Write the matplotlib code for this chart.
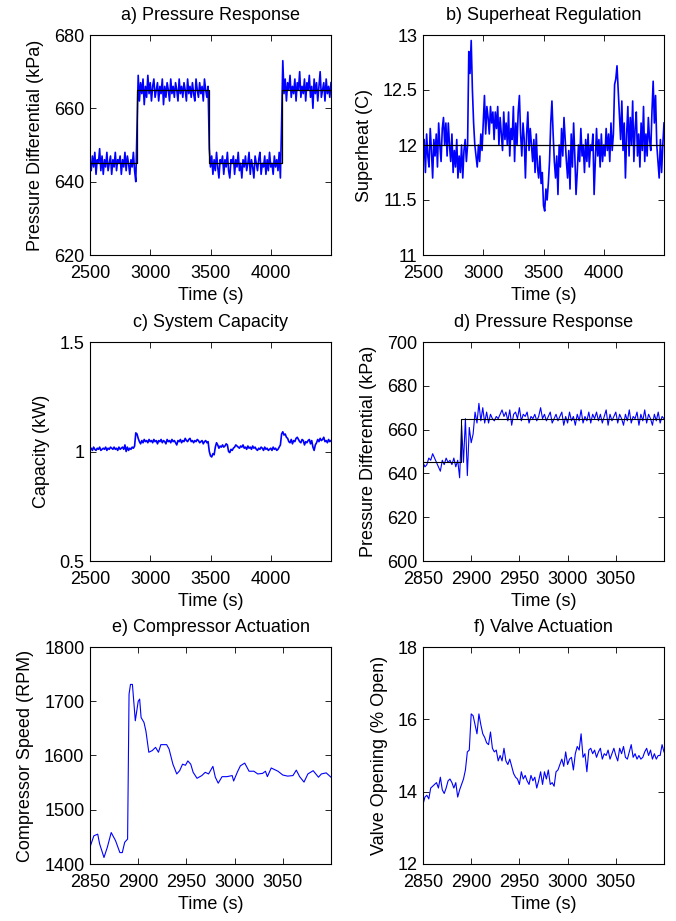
import numpy as np
import matplotlib.pyplot as plt
from matplotlib.ticker import FuncFormatter

plt.rcParams['font.family'] = ['Liberation Sans', 'DejaVu Sans']
plt.rcParams['font.size'] = 13

# ==========================================================
# DATA
# ==========================================================

# a) pressure response, long run, 10 s samples
t_long = np.arange(2500, 4501, 10)
press_long = [
    646, 643, 647, 644, 648, 642, 646, 645, 649, 643,
    647, 642, 646, 644, 648, 643, 645, 647, 642, 646,
    644, 648, 643, 646, 645, 647, 642, 646, 644, 648,
    643, 647, 645, 642, 646, 644, 648, 643, 640,
    655, 669, 662, 667, 664, 668, 661, 666, 663, 669,
    664, 667, 662, 666, 668, 663, 665, 667, 662, 666,
    664, 668, 661, 666, 663, 667, 665, 662, 668, 664,
    666, 663, 667, 665, 662, 668, 664, 666, 663, 667,
    665, 662, 668, 664, 666, 663, 667, 664, 662, 668,
    665, 663, 667, 664, 666, 662, 668, 665, 663, 666,
    649, 644, 647, 642, 646, 643, 648, 644, 641, 646,
    645, 647, 642, 646, 644, 648, 643, 641, 646, 645,
    647, 642, 646, 644, 648, 643, 645, 641, 646, 644,
    647, 643, 645, 648, 642, 646, 644, 641, 647, 645,
    643, 646, 648, 642, 645, 644, 647, 642, 646, 643,
    648, 644, 645, 642, 647, 644, 646, 643, 648, 641,
    656, 673, 664, 668, 662, 667, 665, 669, 663, 666,
    664, 668, 662, 667, 665, 670, 663, 666, 664, 668,
    662, 667, 665, 669, 663, 666, 660, 668, 664, 667,
    662, 666, 670, 663, 665, 667, 662, 668, 664, 666,
    663, 667,
]
sp_press_t = [2500, 2890, 3490, 4090, 4500]
sp_press_v = [645, 665, 645, 665, 665]

# b) superheat
superheat = [
    11.85, 12.05, 11.75, 12.1, 11.9, 11.8, 12.15, 11.95, 11.7, 12.05,
    11.9, 12.1, 11.8, 12.2, 12.0, 11.85, 12.15, 12.25, 12.0, 12.2,
    11.9, 12.2, 12.0, 11.85, 12.1, 11.75, 11.95, 11.8, 12.05, 11.7,
    11.9, 11.75, 12.0, 11.7, 11.95, 12.05, 11.85, 12.0, 12.85, 12.65,
    12.95, 12.5, 12.2, 12.0, 11.9, 11.8, 12.0, 11.85, 12.1, 11.95,
    12.2, 12.45, 12.1, 12.35, 12.25, 12.1, 12.35, 12.2, 12.3, 12.05,
    12.3, 12.15, 12.35, 12.0, 12.25, 12.1, 11.95, 12.3, 12.05, 12.2,
    12.0, 12.3, 11.9, 12.15, 12.05, 12.35, 11.85, 12.2, 12.0, 12.3,
    12.45, 12.1, 11.9, 12.2, 12.05, 11.7, 12.1, 12.3, 11.95, 12.15,
    12.0, 11.85, 12.05, 11.75, 12.1, 11.8, 11.7, 11.9, 11.65, 11.75,
    11.45, 11.4, 11.6, 11.5, 11.65, 11.85, 12.2, 12.4, 12.1, 11.85,
    11.7, 11.9, 11.55, 12.0, 11.8, 12.15, 11.9, 12.25, 12.05, 11.85,
    11.7, 11.95, 11.6, 12.1, 11.8, 12.2, 11.9, 11.55, 11.75, 12.0,
    11.85, 12.15, 11.9, 12.0, 11.75, 12.05, 11.85, 12.1, 11.8, 12.0,
    11.95, 12.1, 11.55, 11.85, 12.15, 11.9, 12.05, 11.8, 12.1, 11.85,
    12.0, 11.9, 12.15, 11.95, 12.1, 11.85, 12.2, 11.95, 12.1, 12.55,
    12.6, 12.72, 12.5, 12.3, 12.05, 12.4, 11.95, 12.2, 11.7, 12.1,
    12.35, 11.9, 12.25, 12.0, 12.4, 11.85, 12.15, 12.3, 11.9, 12.1,
    11.8, 12.2, 11.95, 12.35, 11.85, 12.1, 11.9, 12.25, 12.05, 11.95,
    12.3, 12.58, 12.2, 12.45, 12.0, 11.85, 11.7, 12.05, 11.75, 12.0,
    12.2,
]
sp_superheat = 12.0

# c) capacity
capacity = [
    1.01, 1.015, 1.005, 1.02, 1.01, 1.005, 1.015, 1.01, 1.02, 1.005,
    1.01, 1.015, 1.01, 1.02, 1.005, 1.015, 1.01, 1.02, 1.015, 1.01,
    1.02, 1.01, 1.015, 1.005, 1.02, 1.01, 1.015, 1.02, 1.01, 1.03,
    1.0, 1.02, 1.005, 1.015, 1.01, 1.02, 1.015, 1.025, 1.085, 1.08,
    1.06, 1.045, 1.035, 1.05, 1.04, 1.055, 1.045, 1.05, 1.04, 1.055,
    1.045, 1.05, 1.04, 1.055, 1.045, 1.05, 1.035, 1.05, 1.045, 1.055,
    1.04, 1.05, 1.045, 1.035, 1.055, 1.045, 1.05, 1.04, 1.055, 1.045,
    1.05, 1.04, 1.03, 1.05, 1.045, 1.055, 1.04, 1.05, 1.045, 1.06,
    1.05, 1.045, 1.055, 1.06, 1.045, 1.05, 1.04, 1.05, 1.045, 1.055,
    1.05, 1.04, 1.045, 1.05, 1.035, 1.045, 1.05, 1.04, 1.045, 1.0,
    0.98, 0.975, 0.99, 0.985, 1.02, 1.04, 1.03, 1.015, 1.025, 1.02,
    1.03, 1.02, 1.025, 1.035, 1.03, 1.0, 0.995, 1.01, 1.005, 1.015,
    1.02, 1.03, 1.025, 1.02, 1.015, 1.025, 1.02, 1.03, 1.015, 1.02,
    1.01, 1.025, 1.015, 1.02, 1.01, 1.025, 1.015, 1.02, 1.01, 1.005,
    1.015, 1.01, 1.02, 1.015, 1.005, 1.02, 1.01, 1.015, 1.005, 1.01,
    1.015, 1.005, 1.02, 1.01, 1.015, 1.005, 1.01, 1.02, 1.03, 1.08,
    1.09, 1.075, 1.08, 1.065, 1.06, 1.045, 1.04, 1.055, 1.035, 1.05,
    1.045, 1.06, 1.065, 1.055, 1.045, 1.04, 1.055, 1.05, 1.03, 1.045,
    1.04, 1.05, 1.055, 1.035, 1.05, 1.02, 1.005, 1.03, 1.04, 1.055,
    1.045, 1.06, 1.05, 1.055, 1.065, 1.045, 1.05, 1.04, 1.055, 1.045,
    1.05,
]

# d) pressure response, zoomed, 2 s samples
t_short = np.arange(2850, 3101, 2)
press_short = [
    645, 643, 644, 647, 646, 649, 647, 645, 643, 641,
    646, 644, 647, 645, 646, 644, 647, 643, 646, 638,
    662, 645, 665, 639, 661, 654, 658, 668, 663, 672,
    664, 670, 663, 668, 663, 667, 665, 664, 666, 665,
    667, 669, 666, 668, 664, 669, 662, 667, 668, 665,
    670, 664, 667, 666, 668, 663, 666, 665, 667, 664,
    666, 670, 665, 667, 664, 666, 668, 663, 665, 667,
    664, 666, 668, 662, 666, 663, 668, 664, 666, 662,
    667, 664, 669, 663, 666, 664, 668, 663, 667, 665,
    668, 664, 667, 663, 666, 669, 662, 667, 664, 666,
    668, 663, 667, 665, 662, 667, 664, 669, 663, 666,
    665, 668, 662, 667, 664, 669, 663, 667, 665, 662,
    667, 664, 668, 663, 666, 665,
]
sp_short_t = [2850, 2889, 3100]
sp_short_v = [645, 665, 665]

# e) compressor speed
t_comp = [
    2850, 2854, 2858, 2860, 2864.5, 2868, 2872, 2876.5, 2881, 2883.5,
    2886, 2889, 2890.5, 2892, 2894, 2897, 2898, 2900, 2901.5, 2903,
    2906, 2908, 2911, 2914.5, 2918, 2921, 2923.5, 2929.5, 2932, 2936,
    2940, 2943, 2946, 2949, 2951.5, 2954.5, 2957, 2961, 2966, 2969.5,
    2973, 2977.5, 2980, 2983, 2987, 2992, 2997.5, 2999, 3003, 3006,
    3010.5, 3015, 3020, 3024, 3029, 3032, 3034, 3038, 3045, 3050,
    3055, 3060.5, 3064, 3067.5, 3072, 3076, 3081.5, 3087, 3090, 3095,
    3100,
]
comp_speed = [
    1431, 1452, 1455, 1437, 1412, 1431, 1458, 1443, 1421, 1421,
    1440, 1446, 1713, 1731, 1731, 1664, 1676, 1700, 1704, 1670,
    1661, 1645, 1606, 1609, 1615, 1606, 1620, 1620, 1612, 1584,
    1566, 1572, 1584, 1582, 1590, 1584, 1569, 1558, 1563, 1569,
    1566, 1580, 1560, 1549, 1561, 1561, 1563, 1553, 1570, 1581,
    1586, 1571, 1571, 1566, 1567, 1571, 1561, 1577, 1571, 1564,
    1562, 1563, 1573, 1561, 1551, 1566, 1572, 1560, 1566, 1568,
    1560,
]

# f) valve opening
valve = [
    13.65, 13.85, 13.9, 13.8, 14.1, 14.15, 14.2, 14.25, 14.1, 14.4,
    14.05, 13.95, 14.1, 14.3, 14.35, 14.25, 14.1, 14.25, 13.85, 14.05,
    14.2, 14.35, 14.6, 15.1, 15.15, 16.15, 16.1, 15.85, 15.6, 16.15,
    15.85, 15.6, 15.5, 15.35, 15.3, 15.65, 15.2, 15.1, 15.15, 14.85,
    15.0, 14.85, 15.2, 14.85, 14.75, 14.9, 14.7, 14.5, 14.4, 14.35,
    14.2, 14.55, 14.35, 14.45, 14.3, 14.2, 14.45, 14.3, 14.4, 14.1,
    14.3, 14.55, 14.2, 14.55, 14.35, 14.6, 14.2, 14.25, 14.15, 14.55,
    14.6, 14.75, 14.9, 14.7, 15.1, 14.75, 14.9, 14.95, 14.6, 15.05,
    15.25, 15.15, 15.6, 14.95, 15.05, 14.55, 15.15, 15.2, 15.05, 15.15,
    14.95, 15.1, 15.2, 14.9, 15.05, 15.0, 15.15, 14.9, 15.05, 15.2,
    15.0, 14.85, 15.2, 15.05, 15.25, 14.95, 14.9, 15.1, 15.3, 14.95,
    15.05, 14.9, 15.0, 14.9, 14.95, 15.1, 15.2, 15.0, 15.15, 14.9,
    15.05, 14.9, 15.0, 15.0, 15.3, 15.1,
]

# ==========================================================
# FIGURE
# ==========================================================

fig = plt.figure(figsize=(6.76, 9.21), dpi=100)

W = 676.0
H = 921.0
cols = [90, 423]
rows = [(35, 255), (342, 561), (647, 864)]


def make_axes(r, c):
    top, bot = rows[r]
    ax = fig.add_axes([cols[c] / W, 1 - bot / H, 241 / W, (bot - top) / H])
    ax.tick_params(direction='in', top=True, right=True, length=4,
                   width=0.6, labelsize=13)
    ax.tick_params(axis='x', pad=7)
    ax.tick_params(axis='y', pad=4)
    for s in ax.spines.values():
        s.set_linewidth(0.8)
    ax.yaxis.set_major_formatter(FuncFormatter(lambda v, p: '%g' % v))
    return ax


def finish(ax, title, ylabel):
    ax.set_title(title, fontsize=13, pad=11)
    ax.set_xlabel("Time (s)", labelpad=4)
    ax.set_ylabel(ylabel, labelpad=7)


blue = '#0000ff'

# a
ax = make_axes(0, 0)
ax.plot(t_long, press_long, color=blue, lw=1.2)
ax.step(sp_press_t, sp_press_v, where='post', color='k', lw=0.9)
ax.set_xlim(2500, 4500)
ax.set_xticks([2500, 3000, 3500, 4000])
ax.set_ylim(620, 680)
ax.set_yticks([620, 640, 660, 680])
finish(ax, "a) Pressure Response", "Pressure Differential (kPa)")

# b
ax = make_axes(0, 1)
ax.plot(t_long, superheat, color=blue, lw=1.2)
ax.axhline(sp_superheat, color='k', lw=0.9)
ax.set_xlim(2500, 4500)
ax.set_xticks([2500, 3000, 3500, 4000])
ax.set_ylim(11, 13)
ax.set_yticks([11, 11.5, 12, 12.5, 13])
finish(ax, "b) Superheat Regulation", "Superheat (C)")

# c
ax = make_axes(1, 0)
ax.plot(t_long, capacity, color=blue, lw=1.2)
ax.set_xlim(2500, 4500)
ax.set_xticks([2500, 3000, 3500, 4000])
ax.set_ylim(0.5, 1.5)
ax.set_yticks([0.5, 1, 1.5])
finish(ax, "c) System Capacity", "Capacity (kW)")

# d
ax = make_axes(1, 1)
ax.plot(t_short, press_short, color=blue, lw=0.8)
ax.step(sp_short_t, sp_short_v, where='post', color='k', lw=0.8)
ax.set_xlim(2850, 3100)
ax.set_xticks([2850, 2900, 2950, 3000, 3050])
ax.set_ylim(600, 700)
ax.set_yticks([600, 620, 640, 660, 680, 700])
finish(ax, "d) Pressure Response", "Pressure Differential (kPa)")

# e
ax = make_axes(2, 0)
ax.plot(t_comp, comp_speed, color=blue, lw=0.8)
ax.set_xlim(2850, 3100)
ax.set_xticks([2850, 2900, 2950, 3000, 3050])
ax.set_ylim(1400, 1800)
ax.set_yticks([1400, 1500, 1600, 1700, 1800])
finish(ax, "e) Compressor Actuation", "Compressor Speed (RPM)")

# f
ax = make_axes(2, 1)
ax.plot(t_short, valve, color=blue, lw=0.8)
ax.set_xlim(2850, 3100)
ax.set_xticks([2850, 2900, 2950, 3000, 3050])
ax.set_ylim(12, 18)
ax.set_yticks([12, 14, 16, 18])
finish(ax, "f) Valve Actuation", "Valve Opening (% Open)")

fig.savefig("out.png", dpi=100)
